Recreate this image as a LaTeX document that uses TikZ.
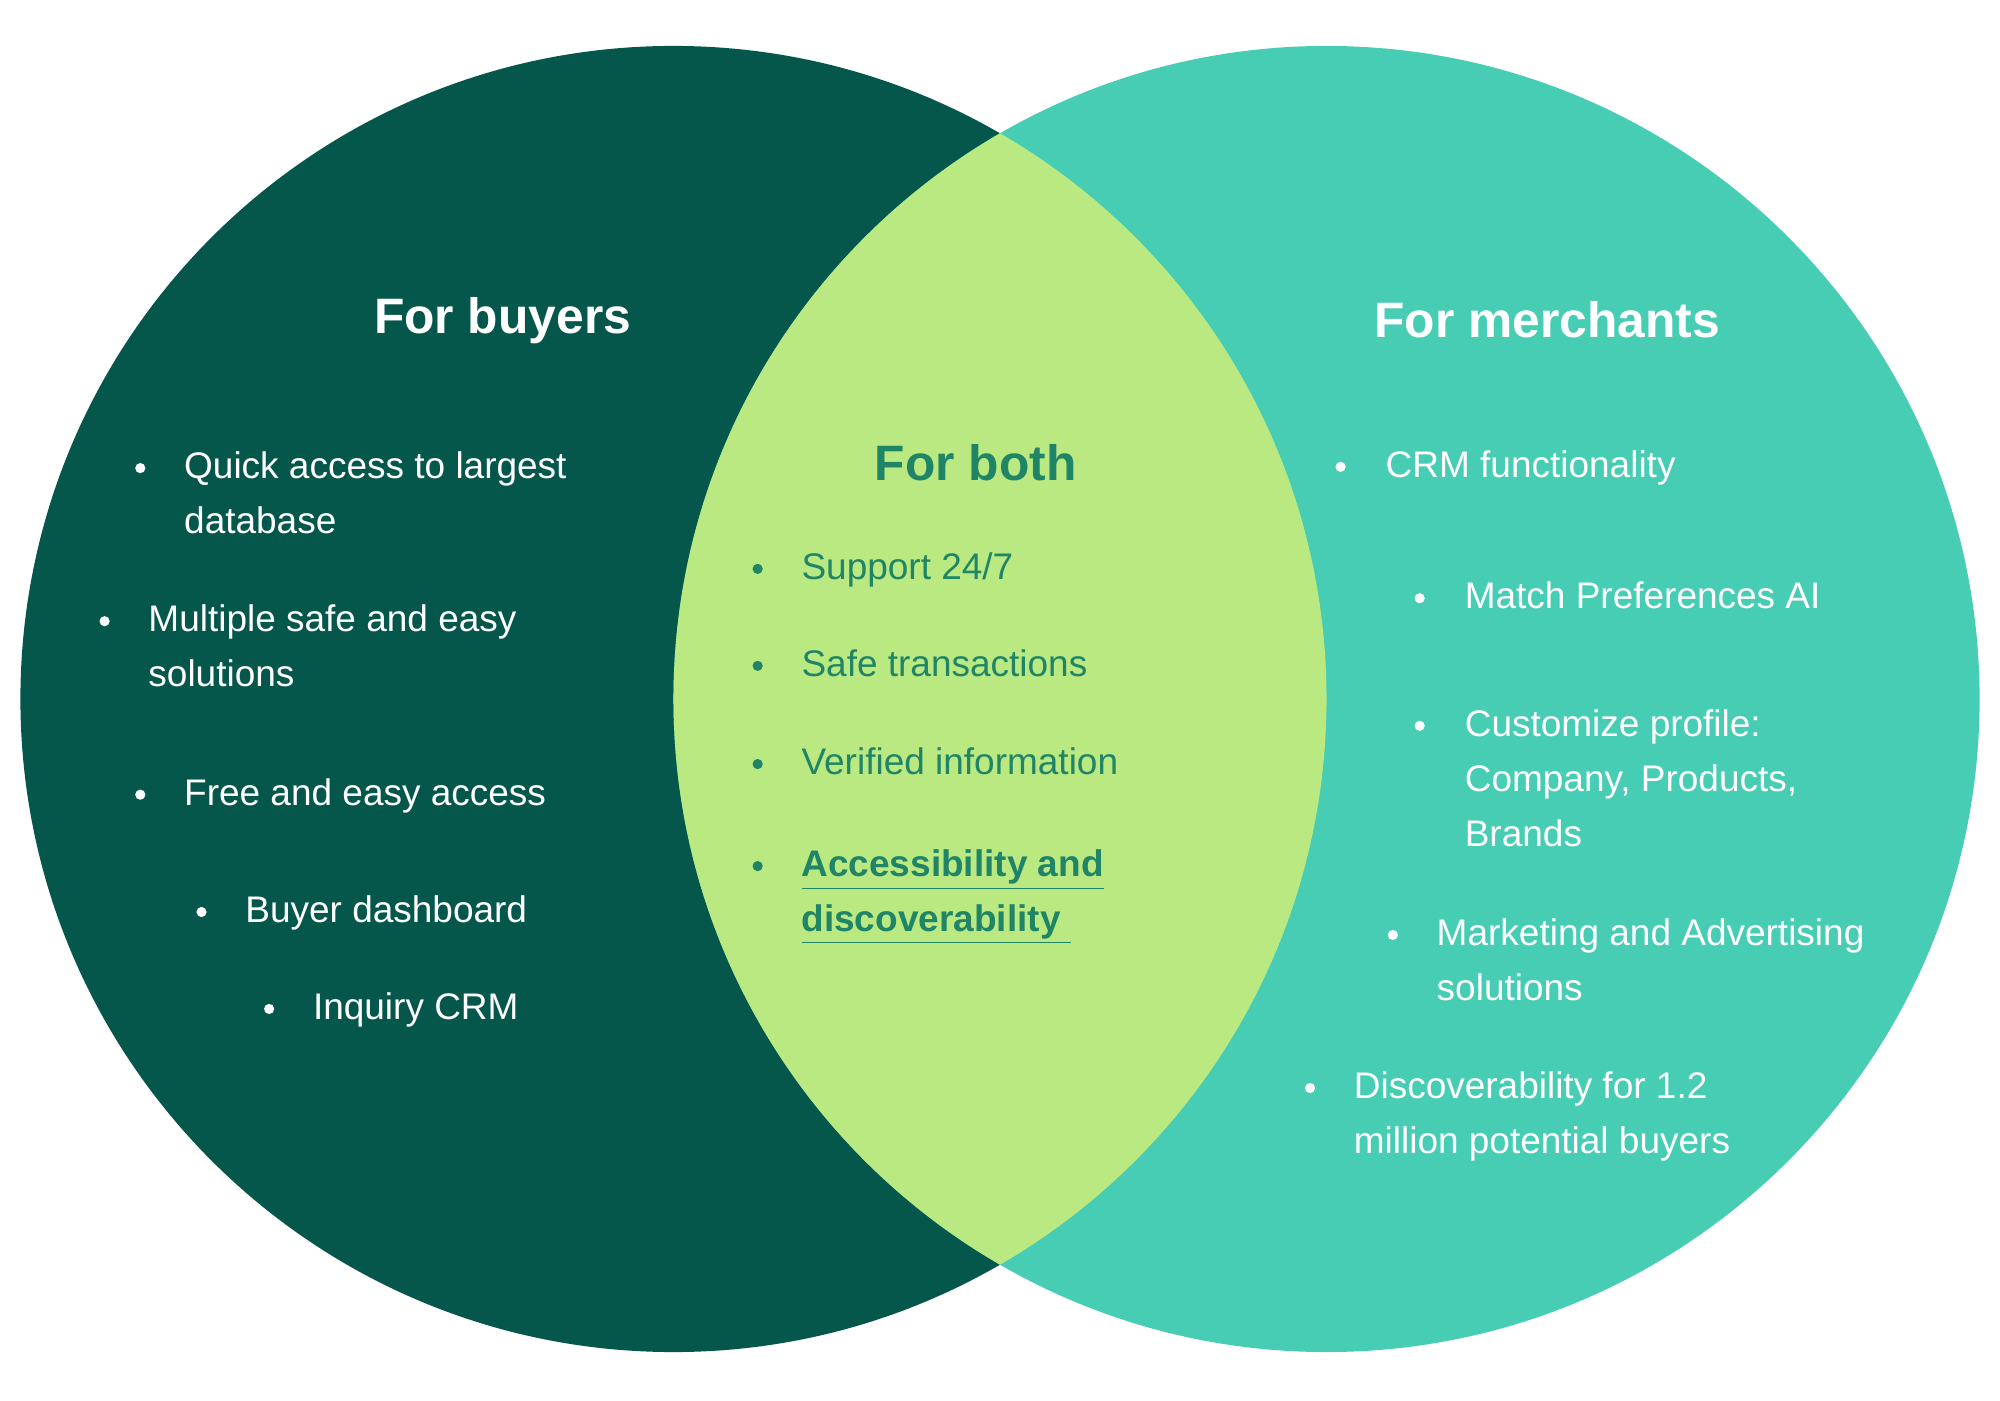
\documentclass[tikz,border=0pt]{standalone}
\usepackage{fontspec}
\setmainfont{Liberation Sans}
\definecolor{dark}{HTML}{04574A}
\definecolor{teal}{HTML}{46CDB4}
\definecolor{lens}{HTML}{BAE982}
\definecolor{lenstext}{HTML}{1F8566}
\begin{document}
\begin{tikzpicture}[x=0.5bp,y=-0.5bp,
  item/.style={anchor=north west,inner sep=0pt,align=left,font=\fontsize{14.5bp}{21.5bp}\selectfont},
  title/.style={inner sep=0pt,font=\fontsize{19.5bp}{23bp}\selectfont\bfseries},
  dot/.style={circle,fill,inner sep=0pt,minimum size=4bp}]
\useasboundingbox (0,0) rectangle (1568,1098);
\fill[white] (0,0) rectangle (1568,1098);
\fill[dark] (528,548) circle[radius=512];
\fill[teal] (1040,548) circle[radius=512];
\begin{scope}
\clip (528,548) circle[radius=512];
\fill[lens] (1040,548) circle[radius=512];
\end{scope}
% left
\begin{scope}[white]
\node[title,white] (tb) at (394,251) {For buyers};
\node[dot,white] (b1) at (110,367) {}; \node[item,white] (l1) at (144,354) {Quick access to largest\\database};
\node[dot,white] (b2) at (82,487) {}; \node[item,white] (l2) at (116,474) {Multiple safe and easy\\solutions};
\node[dot,white] (b3) at (110,623) {}; \node[item,white] (l3) at (144,610) {Free and easy access};
\node[dot,white] (b4) at (158,715) {}; \node[item,white] (l4) at (192,702) {Buyer dashboard};
\node[dot,white] (b5) at (211,791) {}; \node[item,white] (l5) at (245,778) {Inquiry CRM};
\end{scope}
% center
\node[title,lenstext] (tc) at (765,363) {For both};
\node[dot,lenstext] (c1d) at (594,446) {}; \node[item,lenstext] (c1) at (628,433) {Support 24/7};
\node[dot,lenstext] (c2d) at (594,522) {}; \node[item,lenstext] (c2) at (628,509) {Safe transactions};
\node[dot,lenstext] (c3d) at (594,599) {}; \node[item,lenstext] (c3) at (628,586) {Verified information};
\node[dot,lenstext] (c4d) at (594,679) {}; \node[item,lenstext,font=\fontsize{14.5bp}{21.5bp}\selectfont\bfseries] (c4) at (628,666) {\underline{Accessibility and}\\\underline{discoverability\ }};
% right
\node[title,white] (tm) at (1213,251) {For merchants};
\node[dot,white] (r1d) at (1051,366) {}; \node[item,white] (r1) at (1086,353) {CRM functionality};
\node[dot,white] (r2d) at (1113,469) {}; \node[item,white] (r2) at (1148,456) {Match Preferences AI};
\node[dot,white] (r3d) at (1113,569) {}; \node[item,white] (r3) at (1148,556) {Customize profile:\\Company, Products,\\Brands};
\node[dot,white] (r4d) at (1092,733) {}; \node[item,white] (r4) at (1126,720) {Marketing and Advertising\\solutions};
\node[dot,white] (r5d) at (1027,853) {}; \node[item,white] (r5) at (1061,840) {Discoverability for 1.2\\million potential buyers};
\end{tikzpicture}
\end{document}
